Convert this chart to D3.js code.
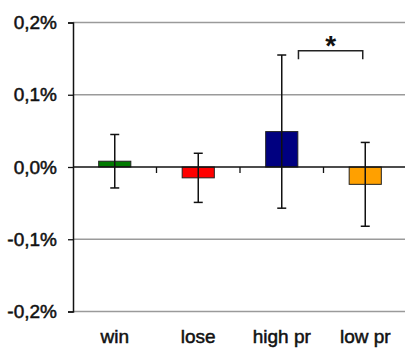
<!DOCTYPE html>
<html>
<head>
<meta charset="utf-8">
<script src="https://cdn.jsdelivr.net/npm/d3@7"></script>
<style>
    html, body { margin: 0; padding: 0; background: #fff; }
    svg { display: block; font-family: 'Liberation Sans', Arial, sans-serif; }
</style>
</head>
<body>
<div id="chart"></div>
<script>
// values are in percent
const categories = ['win', 'lose', 'high pr', 'low pr'];
const means = [0.008, -0.015, 0.049, -0.024];
const errors = [0.037, 0.034, 0.106, 0.058];
const colors = ['#007a00', '#ff0000', '#000080', '#ffa000'];
const yTicks = [0.2, 0.1, 0.0, -0.1, -0.2];
const bracketPair = ['high pr', 'low pr'];
const bracketLevel = 0.161;
const bracketLeg = 0.149;

const width = 405;
const height = 348;
const margin = { top: 22.5, right: -2, bottom: 36.5, left: 73 };

const svg = d3.select('#chart')
    .append('svg')
    .attr('width', width)
    .attr('height', height);

const x = d3.scaleBand()
    .domain(categories)
    .range([margin.left, width - margin.right])
    .padding(0);

const y = d3.scaleLinear()
    .domain([-0.2, 0.2])
    .range([height - margin.bottom, margin.top]);

const fmt = d => d.toFixed(1).replace('.', ',') + '%';

// gridlines
svg.append('g')
    .selectAll('line')
    .data(yTicks.filter(d => d !== 0))
    .enter().append('line')
    .attr('x1', margin.left)
    .attr('x2', width)
    .attr('y1', d => y(d))
    .attr('y2', d => y(d))
    .attr('stroke', '#9a9a9a')
    .attr('stroke-width', 1.6);

// y axis
const yAxis = svg.append('g')
    .attr('transform', `translate(${margin.left},0)`)
    .call(d3.axisLeft(y).tickValues(yTicks).tickFormat(fmt).tickSize(5).tickPadding(11));
yAxis.select('.domain').attr('stroke', '#111').attr('stroke-width', 1.5);
yAxis.selectAll('.tick line').attr('stroke', '#111').attr('stroke-width', 1.3);
yAxis.selectAll('.tick text')
    .attr('fill', '#111')
    .attr('stroke', '#111')
    .attr('stroke-width', 0.5)
    .style('font-size', '19px')
    .style('font-family', "'Liberation Sans', Arial, sans-serif");

const barW = x.bandwidth() * 0.385;

// bars
svg.append('g')
    .selectAll('rect')
    .data(categories)
    .enter().append('rect')
    .attr('x', d => x(d) + x.bandwidth() / 2 - barW / 2)
    .attr('y', (d, i) => y(Math.max(0, means[i])))
    .attr('width', barW)
    .attr('height', (d, i) => Math.abs(y(means[i]) - y(0)))
    .attr('fill', (d, i) => colors[i])
    .attr('stroke', '#222')
    .attr('stroke-width', 1);

// zero line with category ticks
svg.append('line')
    .attr('x1', margin.left)
    .attr('x2', width)
    .attr('y1', y(0))
    .attr('y2', y(0))
    .attr('stroke', '#111')
    .attr('stroke-width', 1.5);

svg.append('g')
    .selectAll('line')
    .data(categories.slice(1))
    .enter().append('line')
    .attr('x1', d => x(d))
    .attr('x2', d => x(d))
    .attr('y1', y(0))
    .attr('y2', y(0) + 6)
    .attr('stroke', '#111')
    .attr('stroke-width', 1.3);

// error bars
const errG = svg.append('g')
    .attr('stroke', '#111')
    .attr('stroke-width', 1.5);
categories.forEach((c, i) => {
    const cx = x(c) + x.bandwidth() / 2;
    const hi = y(means[i] + errors[i]);
    const lo = y(means[i] - errors[i]);
    errG.append('line').attr('x1', cx).attr('x2', cx).attr('y1', hi).attr('y2', lo);
    errG.append('line').attr('x1', cx - 4.5).attr('x2', cx + 4.5).attr('y1', hi).attr('y2', hi);
    errG.append('line').attr('x1', cx - 4.5).attr('x2', cx + 4.5).attr('y1', lo).attr('y2', lo);
});

// significance bracket
const bx1 = x(bracketPair[0]) + x.bandwidth() * 0.7;
const bx2 = x(bracketPair[1]) + x.bandwidth() * 0.47;
svg.append('path')
    .attr('d', `M${bx1},${y(bracketLeg)}V${y(bracketLevel)}H${bx2}V${y(bracketLeg)}`)
    .attr('fill', 'none')
    .attr('stroke', '#222')
    .attr('stroke-width', 1.5);
svg.append('text')
    .attr('x', (bx1 + bx2) / 2)
    .attr('y', y(bracketLevel) + 4)
    .attr('text-anchor', 'middle')
    .style('font-size', '28px')
    .style('font-weight', 'bold')
    .attr('fill', '#111')
    .text('*');

// category labels
svg.append('g')
    .selectAll('text')
    .data(categories)
    .enter().append('text')
    .attr('x', d => x(d) + x.bandwidth() / 2)
    .attr('y', 343)
    .attr('text-anchor', 'middle')
    .attr('fill', '#111')
    .attr('stroke', '#111')
    .attr('stroke-width', 0.5)
    .style('font-size', '19px')
    .text(d => d);
</script>
</body>
</html>
